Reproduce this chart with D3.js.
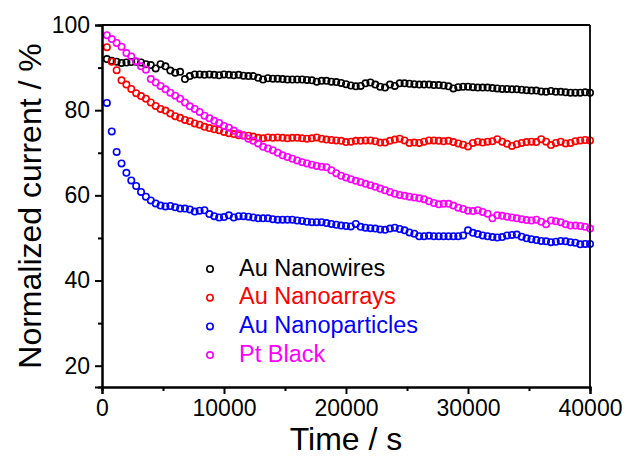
<!DOCTYPE html>
<html>
<head>
<meta charset="utf-8">
<script src="https://cdn.jsdelivr.net/npm/d3@7"></script>
<style>
  html, body { margin: 0; padding: 0; background: #fff; }
  svg { display: block; font-family: Arial, "Liberation Sans", sans-serif; }
</style>
</head>
<body>
<svg id="chart" width="626" height="457"></svg>
<script>
// ---- data ----
const seriesNames = ["Au Nanowires", "Au Nanoarrays", "Au Nanoparticles", "Pt Black"];
const seriesColors = ["#000000", "#ff0000", "#0000ff", "#ff00ff"];
// sampling times (s): one reading every 400 s
const time = d3.range(400, 40001, 400);

const auNanowires = [
  92.0, 91.6, 91.4, 91.1, 91.2, 91.3, 91.4, 91.2, 90.8, 90.6,
  89.8, 90.8, 90.3, 89.3, 88.8, 89.0, 87.3, 88.0, 88.4, 88.4,
  88.3, 88.4, 88.3, 88.2, 88.4, 88.3, 88.2, 88.3, 88.1, 88.0,
  88.0, 87.6, 87.2, 87.5, 87.4, 87.4, 87.3, 87.2, 87.2, 87.2,
  87.2, 87.1, 87.0, 86.7, 86.9, 86.9, 86.7, 86.6, 86.4, 86.1,
  85.8, 85.6, 85.7, 86.3, 86.5, 86.0, 85.5, 85.3, 86.0, 85.7,
  86.3, 86.3, 86.2, 86.1, 86.0, 86.0, 86.0, 85.9, 85.9, 85.8,
  85.6, 85.1, 85.4, 85.5, 85.5, 85.4, 85.3, 85.3, 85.3, 85.2,
  85.1, 85.0, 85.0, 84.9, 84.9, 84.8, 84.7, 84.6, 84.6, 84.4,
  84.3, 84.5, 84.3, 84.3, 84.2, 84.1, 84.1, 84.1, 84.2, 84.1
];
const auNanoarrays = [
  94.8, 91.4, 89.4, 87.0, 86.0, 85.0, 84.0, 83.3, 82.7, 81.8,
  81.0, 80.3, 79.9, 79.2, 78.6, 78.2, 77.7, 77.4, 76.9, 76.6,
  76.1, 75.8, 75.5, 75.3, 74.9, 74.6, 74.4, 74.1, 74.1, 74.0,
  73.8, 73.5, 73.4, 73.6, 73.5, 73.6, 73.5, 73.4, 73.5, 73.5,
  73.4, 73.3, 73.4, 73.6, 73.3, 73.1, 73.0, 72.9, 72.8, 72.5,
  72.6, 72.8, 72.8, 72.9, 72.9, 72.7, 72.4, 72.4, 72.8, 73.1,
  73.3, 72.9, 72.3, 72.4, 72.3, 72.6, 72.9, 72.9, 72.8, 72.7,
  72.8, 72.5, 72.2, 71.9, 71.5, 72.3, 72.6, 72.4, 72.6, 72.7,
  73.2, 72.6, 72.1, 71.6, 72.0, 72.3, 72.5, 72.6, 72.5, 73.2,
  72.6, 71.8, 72.3, 72.6, 72.2, 72.3, 72.7, 72.9, 73.0, 72.9
];
const auNanoparticles = [
  81.7, 75.0, 70.2, 67.5, 65.3, 63.5, 62.2, 60.8, 59.7, 58.8,
  58.1, 57.6, 57.4, 57.5, 57.2, 56.9, 56.9, 56.7, 56.2, 56.4,
  56.5, 55.6, 55.1, 54.8, 54.9, 55.3, 54.8, 55.1, 55.1, 55.0,
  54.8, 54.6, 54.6, 54.6, 54.4, 54.3, 54.3, 54.3, 54.3, 54.1,
  54.0, 53.8, 53.7, 53.7, 53.7, 53.5, 53.3, 53.1, 52.9, 52.8,
  52.7, 53.3, 52.6, 52.4, 52.3, 52.2, 52.0, 51.9, 52.2, 52.4,
  52.1, 51.8, 51.3, 51.0, 50.4, 50.4, 50.5, 50.4, 50.4, 50.4,
  50.4, 50.4, 50.4, 50.6, 51.8, 51.2, 50.9, 50.6, 50.4, 50.2,
  50.1, 50.2, 50.6, 50.7, 50.8, 50.3, 49.9, 49.7, 49.5, 49.3,
  49.2, 49.0, 49.1, 49.3, 49.2, 49.0, 48.9, 48.5, 48.6, 48.6
];
const ptBlack = [
  97.6, 96.7, 95.8, 94.9, 93.4, 92.6, 91.5, 90.3, 89.5, 87.3,
  86.5, 85.7, 84.9, 84.1, 83.4, 82.7, 81.8, 80.9, 80.3, 79.6,
  78.7, 78.1, 77.5, 77.0, 76.3, 75.9, 75.2, 74.5, 74.0, 73.3,
  72.8, 72.2, 71.4, 71.0, 70.6, 70.0, 69.4, 69.0, 68.6, 68.2,
  67.8, 67.5, 67.2, 66.9, 66.7, 66.6, 65.9, 65.2, 64.6, 64.2,
  63.8, 63.4, 63.1, 62.7, 62.4, 62.0, 61.6, 61.2, 60.8, 60.4,
  60.1, 59.9, 59.7, 59.5, 59.3, 59.1, 58.6, 58.2, 57.9, 58.0,
  58.0, 57.6, 57.1, 56.8, 56.4, 56.3, 56.5, 56.1, 55.7, 54.6,
  55.3, 55.2, 55.0, 54.8, 54.6, 54.4, 54.2, 54.1, 54.3, 53.8,
  53.2, 54.1, 53.9, 53.7, 53.2, 52.9, 52.9, 52.8, 52.6, 52.2
];
const seriesValues = [auNanowires, auNanoarrays, auNanoparticles, ptBlack];

const xMajorTicks = [0, 10000, 20000, 30000, 40000];
const xMinorTicks = [5000, 15000, 25000, 35000];
const yMajorTicks = [20, 40, 60, 80, 100];
const yMinorTicks = [30, 50, 70, 90];
const xTitle = "Time / s";
const yTitle = "Normalized current / %";

// ---- layout ----
const svg = d3.select("#chart");
const plot = { left: 102, right: 590, top: 25, bottom: 387 };

const x = d3.scaleLinear().domain([0, 40000]).range([plot.left, plot.right]);
const y = d3.scaleLinear().domain([15, 100]).range([plot.bottom, plot.top]);

// data points (drawn first so axes sit on top)
const gData = svg.append("g");
seriesValues.forEach((vals, s) => {
  gData.append("g")
    .selectAll("circle")
    .data(vals.map((v, i) => ({ t: time[i], v })))
    .join("circle")
    .attr("cx", d => x(d.t))
    .attr("cy", d => y(d.v))
    .attr("r", 3.2)
    .attr("fill", "none")
    .attr("stroke", seriesColors[s])
    .attr("stroke-width", 1.6);
});

// frame (top & right)
svg.append("line").attr("x1", plot.left).attr("x2", plot.right)
  .attr("y1", plot.top).attr("y2", plot.top)
  .attr("stroke", "#000").attr("stroke-width", 1.8);
svg.append("line").attr("x1", plot.right).attr("x2", plot.right)
  .attr("y1", plot.top).attr("y2", plot.bottom)
  .attr("stroke", "#000").attr("stroke-width", 1.8);

// x axis
const xAxis = svg.append("g")
  .attr("transform", `translate(0,${plot.bottom})`)
  .call(d3.axisBottom(x).tickValues(xMajorTicks).tickFormat(d3.format("d"))
    .tickSize(7).tickPadding(6));
const xMinor = svg.append("g")
  .attr("transform", `translate(0,${plot.bottom})`)
  .call(d3.axisBottom(x).tickValues(xMinorTicks).tickFormat("").tickSize(4));

// y axis
const yAxis = svg.append("g")
  .attr("transform", `translate(${plot.left},0)`)
  .call(d3.axisLeft(y).tickValues(yMajorTicks).tickFormat(d3.format("d"))
    .tickSize(7).tickPadding(5));
const yMinor = svg.append("g")
  .attr("transform", `translate(${plot.left},0)`)
  .call(d3.axisLeft(y).tickValues(yMinorTicks).tickFormat("").tickSize(4));

[xAxis, xMinor, yAxis, yMinor].forEach(g => {
  g.select(".domain").attr("stroke", "#000").attr("stroke-width", 2);
  g.selectAll(".tick line").attr("stroke", "#000").attr("stroke-width", 2);
  g.selectAll(".tick text")
    .attr("fill", "#000")
    .style("font-family", "Arial, 'Liberation Sans', sans-serif")
    .style("font-size", "23px");
});

// axis titles
svg.append("text")
  .attr("x", 346)
  .attr("y", 450)
  .attr("text-anchor", "middle")
  .style("font-size", "32px")
  .attr("fill", "#000")
  .text(xTitle);

svg.append("text")
  .attr("transform", `translate(41,${(plot.top + plot.bottom) / 2}) rotate(-90)`)
  .attr("text-anchor", "middle")
  .style("font-size", "32px")
  .attr("fill", "#000")
  .text(yTitle);

// legend
const legend = svg.append("g").attr("transform", "translate(210,269)");
seriesNames.forEach((name, i) => {
  const row = legend.append("g").attr("transform", `translate(0,${i * 28.7})`);
  row.append("circle")
    .attr("cx", 0).attr("cy", 0).attr("r", 3.2)
    .attr("fill", "none")
    .attr("stroke", seriesColors[i])
    .attr("stroke-width", 1.6);
  row.append("text")
    .attr("x", 29).attr("y", 6.5)
    .style("font-size", "23.5px")
    .attr("fill", seriesColors[i])
    .text(name);
});
</script>
</body>
</html>
